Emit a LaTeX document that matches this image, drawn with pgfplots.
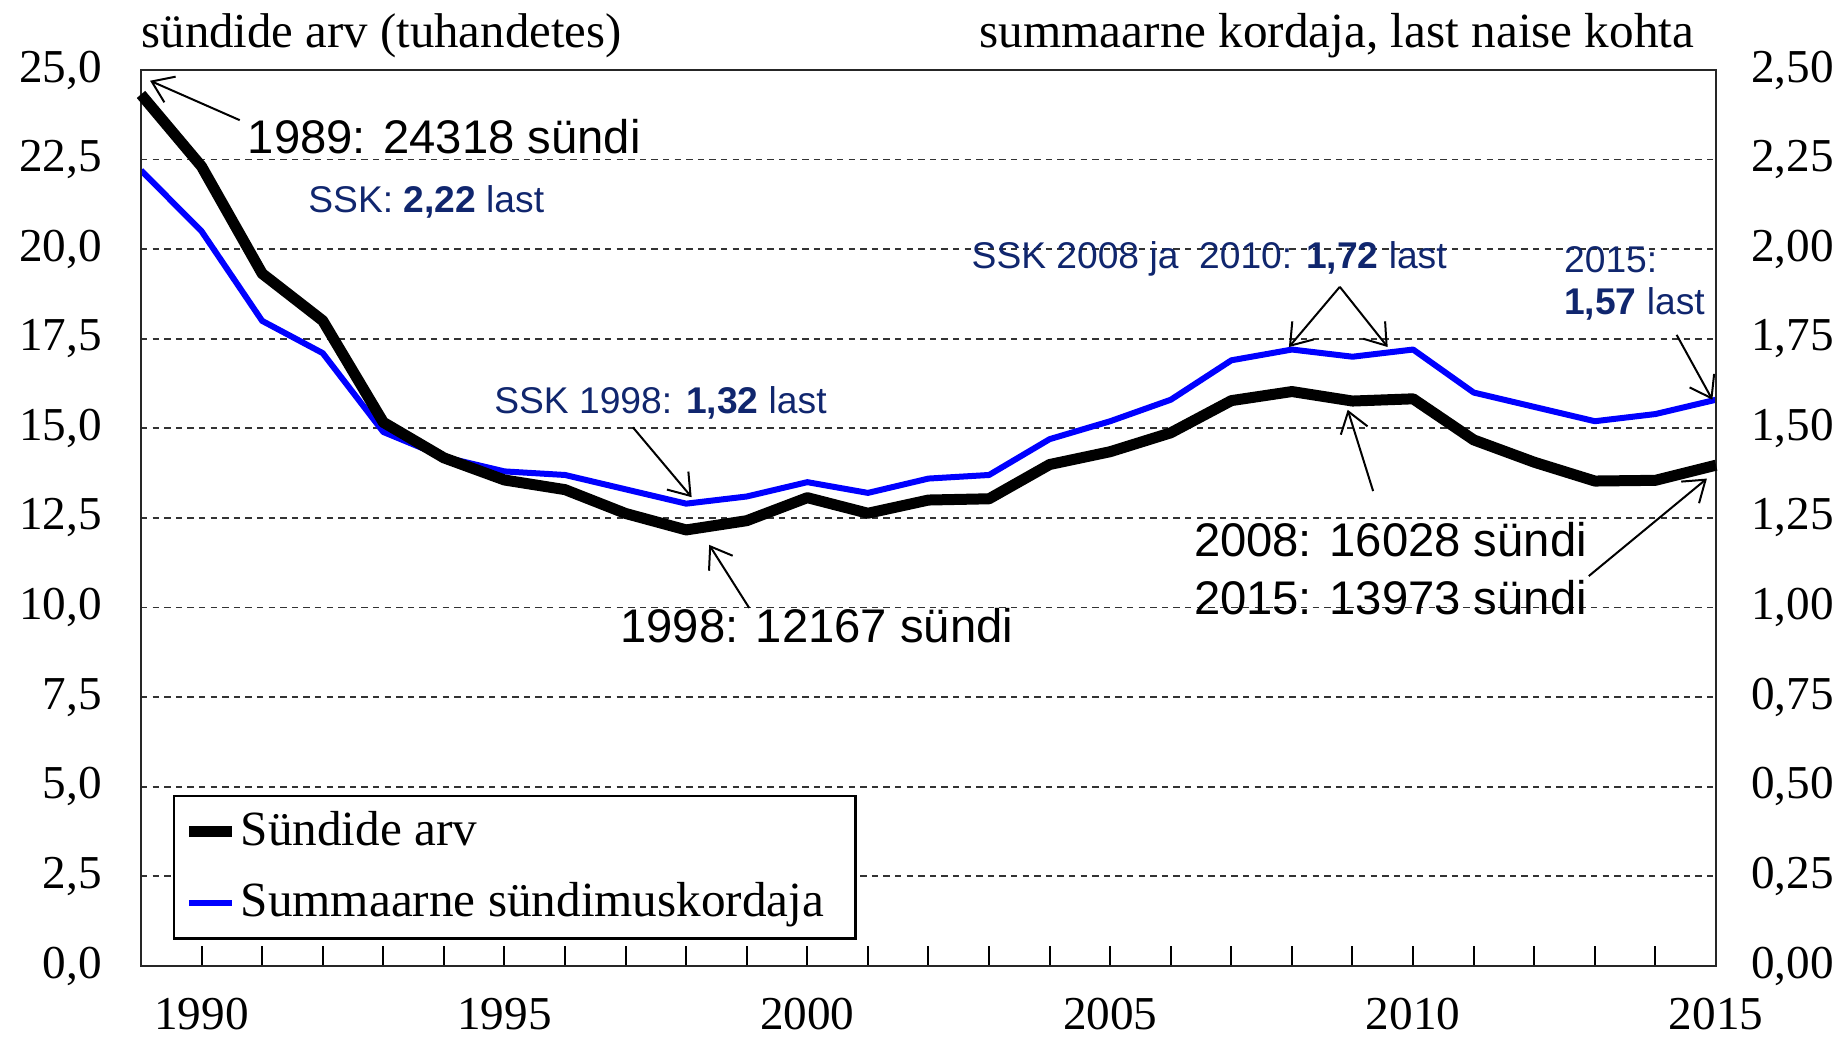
\documentclass[border=0pt]{standalone}
\usepackage{fontspec}
\setmainfont{Liberation Serif}
\newfontfamily\arial{Liberation Sans}
\usepackage{pgfplots}
\usepackage{pgfplotstable}
\pgfplotsset{compat=1.18}
\usetikzlibrary{arrows.meta}
\definecolor{ssk}{RGB}{16,38,110}
\definecolor{tfr}{RGB}{0,0,255}

\pgfplotstableread{
year births tfr
1989 24.318 2.22
1990 22.308 2.05
1991 19.320 1.80
1992 18.006 1.71
1993 15.170 1.49
1994 14.178 1.42
1995 13.560 1.38
1996 13.291 1.37
1997 12.626 1.33
1998 12.167 1.29
1999 12.425 1.31
2000 13.067 1.35
2001 12.632 1.32
2002 13.001 1.36
2003 13.036 1.37
2004 13.992 1.47
2005 14.350 1.52
2006 14.877 1.58
2007 15.775 1.69
2008 16.028 1.72
2009 15.763 1.70
2010 15.825 1.72
2011 14.679 1.60
2012 14.056 1.56
2013 13.531 1.52
2014 13.551 1.54
2015 13.973 1.58
}\data

\begin{document}
\begin{tikzpicture}
\pgfplotsset{
  base/.style={
    width=393.75pt, height=224pt, scale only axis,
    xmin=1989, xmax=2015,
    /pgf/number format/assume math mode=true,
    tick label style={font=\fontsize{11.8}{14}\selectfont},
    axis line style={black!85, line width=0.6pt},
  }
}
\begin{axis}[base, name=ax1,
  ymin=0, ymax=2.5,
  ytick={0,0.25,0.5,0.75,1,1.25,1.5,1.75,2,2.25,2.5},
  yticklabel pos=right,
  xtick=\empty,
  ytick style={draw=none},
  ymajorgrids,
  major grid style={black!80, line width=0.45pt, dash pattern=on 1.6pt off 1.3pt},
  yticklabel style={xshift=5.25pt, /pgf/number format/.cd, use comma, fixed, fixed zerofill, precision=2},
]
\addplot[tfr, line width=1.5pt, line join=round] table[x=year, y=tfr]{\data};
\end{axis}

\begin{axis}[base, name=ax2,
  ymin=0, ymax=25,
  ytick={0,2.5,5,7.5,10,12.5,15,17.5,20,22.5,25},
  yticklabel pos=left,
  ytick style={draw=none},
  xtick={1990,1995,2000,2005,2010,2015},
  minor xtick={1989,...,2015},
  xtick pos=left,
  tick align=inside,
  major tick length=5pt, minor tick length=5pt,
  tick style={black, line width=0.5pt},
  xticklabel style={yshift=-4.5pt, /pgf/number format/1000 sep={}},
  yticklabel style={xshift=-6.25pt, /pgf/number format/.cd, use comma, fixed, fixed zerofill, precision=1},
  clip=false,
  legend style={at={(rel axis cs:0.0203,0.191)}, anchor=north west,
    draw=black, line width=0.6pt, fill=white,
    inner xsep=2.35pt, inner ysep=1.9pt, row sep=3.7pt, column sep=-1.2pt,
    font=\fontsize{12.3}{14}\selectfont,
    cells={anchor=west}},
  legend image code/.code={\draw[#1] (0pt,0pt) -- (10.75pt,0pt);},
]
\addplot[black, line width=2.75pt, line join=round] table[x=year, y=births]{\data};
\addlegendentry{Sündide arv}
\addlegendimage{tfr, line width=1.5pt}
\addlegendentry{Summaarne sündimuskordaja\rule{3.5pt}{0pt}}

% axis titles
\node[anchor=base west, inner sep=0, font=\fontsize{12.2}{14}\selectfont, yshift=5.5pt] at (rel axis cs:0,1) {sündide arv (tuhandetes)};
\node[anchor=base east, inner sep=0, font=\fontsize{12.3}{14}\selectfont, yshift=5.5pt, xshift=-5.25pt] at (rel axis cs:1,1) {summaarne kordaja, last naise kohta};

% annotations
\tikzset{ann/.style={-{Straight Barb[length=5pt,width=7pt]}, line width=0.5pt, black}}
\node[anchor=west, inner sep=0, font=\arial\fontsize{11.8}{14}\selectfont] at (1990.75,23.14) {1989: 24318 sündi};
\draw[ann] (1990.63,23.6) -- (1989.15,24.70);

\node[anchor=west, inner sep=0, text=ssk, font=\arial\fontsize{9.3}{11}\selectfont] at (1991.75,21.32) {SSK: \textbf{2,22} last};

\node[anchor=west, inner sep=0, text=ssk, font=\arial\fontsize{9.3}{11}\selectfont] at (1994.82,15.70) {SSK 1998: \textbf{1,32} last};
\draw[ann] (1997.12,15.03) -- (1998.09,13.08);

\node[anchor=west, inner sep=0, font=\arial\fontsize{11.8}{14}\selectfont] at (1996.90,9.51) {1998: 12167 sündi};
\draw[ann] (1999.04,9.99) -- (1998.38,11.75);

\node[anchor=west, inner sep=0, text=ssk, font=\arial\fontsize{9.3}{11}\selectfont] at (2002.70,19.72) {SSK 2008 ja~ 2010: \textbf{1,72} last};
\draw[ann] (2008.79,18.95) -- (2007.95,17.27);
\draw[ann] (2008.79,18.95) -- (2009.58,17.27);

\node[anchor=west, inner sep=0, text=ssk, font=\arial\fontsize{9.3}{11}\selectfont] at (2012.48,19.72) {2015:};
\node[anchor=west, inner sep=0, text=ssk, font=\arial\fontsize{9.3}{11}\selectfont] at (2012.48,18.46) {\textbf{1,57} last};
\draw[ann] (2014.35,17.61) -- (2014.94,15.80);

\node[anchor=west, inner sep=0, font=\arial\fontsize{11.8}{14}\selectfont] at (2006.37,11.90) {2008: 16028 sündi};
\node[anchor=west, inner sep=0, font=\arial\fontsize{11.8}{14}\selectfont] at (2006.37,10.29) {2015: 13973 sündi};
\draw[ann] (2009.34,13.25) -- (2008.92,15.52);
\draw[ann] (2012.90,10.88) -- (2014.85,13.60);
\end{axis}

\pgfresetboundingbox
\path[use as bounding box] ([xshift=-35.25pt,yshift=-17.75pt]ax2.south west) rectangle ([xshift=31.75pt,yshift=17.5pt]ax2.north east);
\end{tikzpicture}
\end{document}
